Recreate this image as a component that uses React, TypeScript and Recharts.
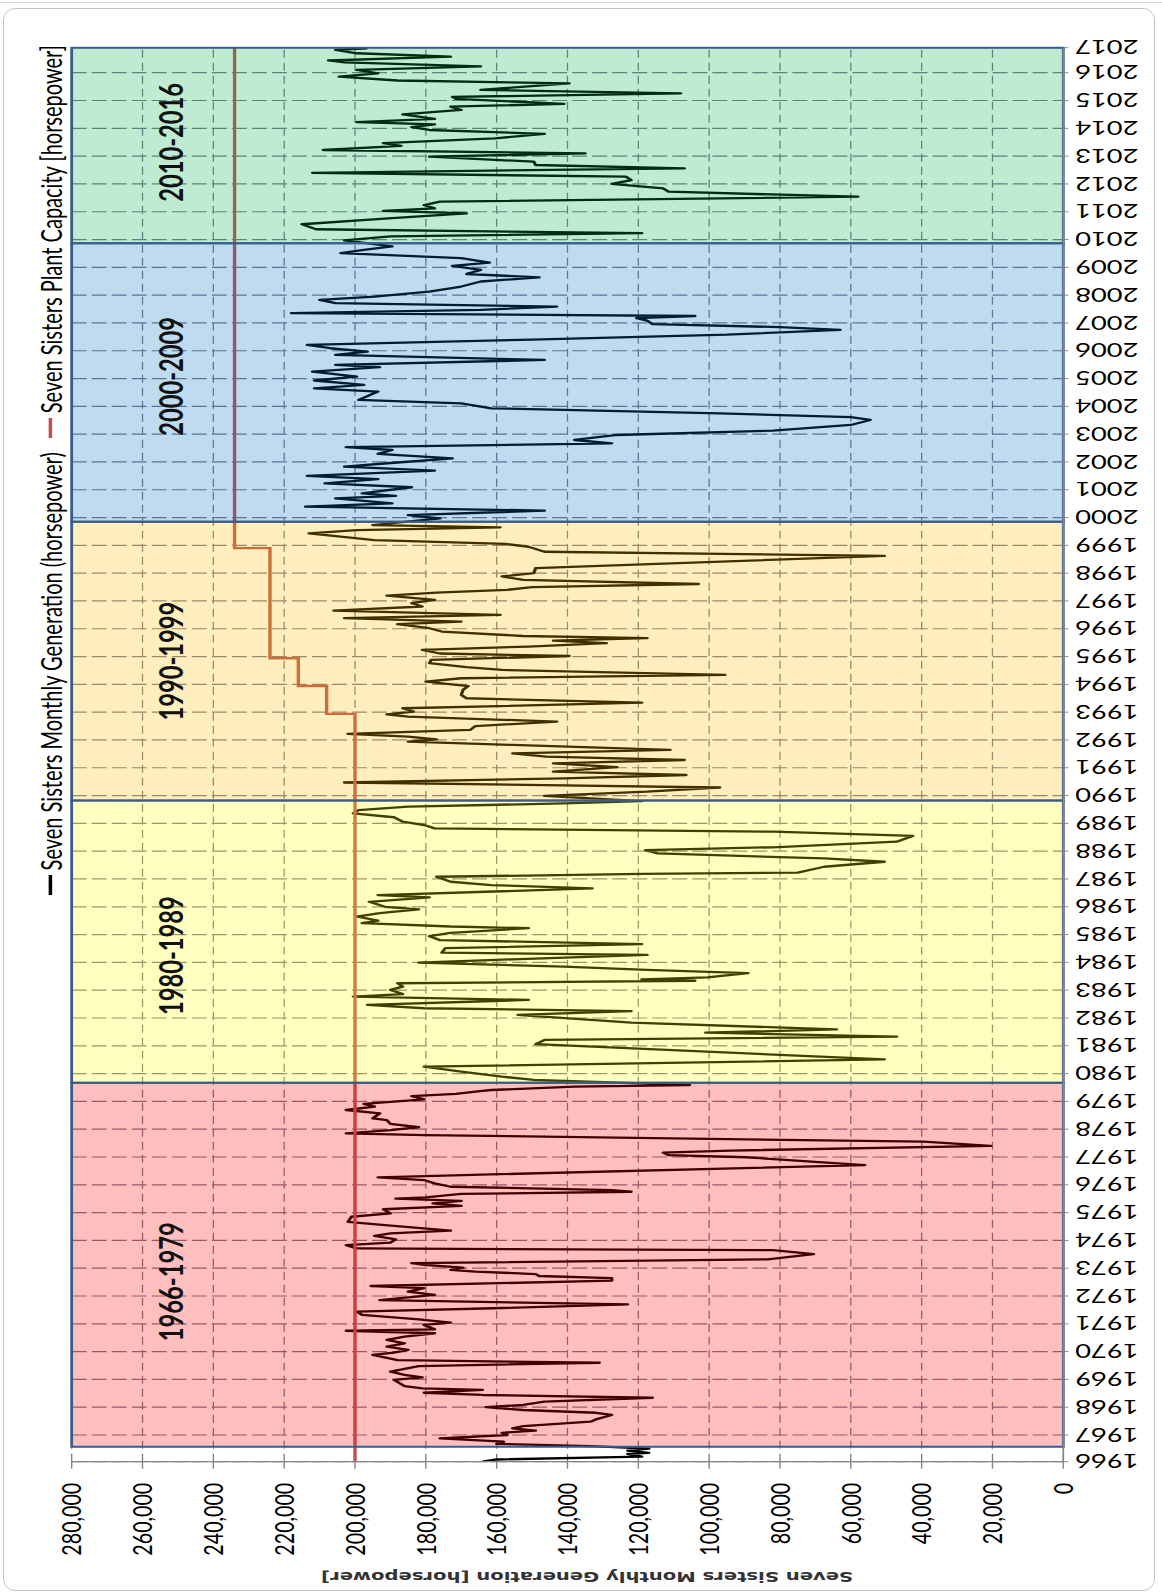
import React from 'react';
import { LineChart, Line, XAxis, YAxis, CartesianGrid, ReferenceArea, Legend } from 'recharts';

// ---- data (year, horsepower) ----
const gen1960s: [number, number][] = [
  [1966.04,164000],[1966.12,160000],[1966.22,119000],[1966.32,123000],[1966.36,117000],[1966.44,123000],[1966.51,117000],[1966.60,133500],[1966.68,160000],[1966.76,158000],[1966.88,176000],
  [1967.00,157000],[1967.08,158500],[1967.16,149000],[1967.24,155500],[1967.32,152500],[1967.48,133500],[1967.56,132000],[1967.72,127500],[1967.80,132000],[1967.90,152500],
  [1968.00,163000],[1968.08,152500],[1968.20,146500],[1968.34,116000],[1968.44,164000],[1968.52,180500],[1968.62,164000],[1968.68,181000],[1968.76,186000],[1968.98,189000],
  [1969.07,181000],[1969.16,186000],[1969.28,190000],[1969.48,182000],[1969.60,131000],[1969.69,188000],[1969.88,195000],[1969.96,189000],
];
const gen1970s: [number, number][] = [
  [1970.06,185000],[1970.18,191000],[1970.30,186000],[1970.42,191000],[1970.54,186000],[1970.66,177500],[1970.75,202500],[1970.80,177500],[1970.96,180500],
  [1971.04,173000],[1971.16,182000],[1971.32,198000],[1971.44,199500],[1971.56,161000],[1971.70,123000],[1971.85,193000],
  [1972.04,177500],[1972.16,185000],[1972.28,180500],[1972.36,195500],[1972.55,127500],[1972.64,127500],[1972.72,148000],[1972.79,149000],[1972.88,166000],[1972.94,173000],
  [1973.02,169500],[1973.12,180500],[1973.18,184000],[1973.32,83500],[1973.51,70500],[1973.65,82000],[1973.71,199500],[1973.83,202500],[1973.92,190000],
  [1974.04,188500],[1974.16,194500],[1974.25,190000],[1974.35,173000],[1974.55,191500],[1974.67,202000],[1974.85,201000],[1974.97,190000],
  [1975.12,192000],[1975.24,170000],[1975.33,178000],[1975.42,170000],[1975.50,188500],[1975.55,180000],[1975.67,170000],[1975.75,122000],[1975.81,127500],[1975.93,173000],
  [1976.05,177500],[1976.17,180500],[1976.27,193500],[1976.71,56000],[1976.99,89500],
  [1977.07,111500],[1977.16,113000],[1977.23,94000],[1977.40,20500],[1977.55,39500],[1977.79,180500],[1977.85,202500],[1977.97,190000],
  [1978.07,182000],[1978.19,190000],[1978.33,191000],[1978.39,195000],[1978.57,193000],[1978.69,202500],[1978.81,194500],[1978.91,197500],
  [1979.07,180500],[1979.19,184000],[1979.27,171500],[1979.35,166000],[1979.41,161500],[1979.53,138000],[1979.59,105500],[1979.77,149500],[1979.89,158500],
];
const gen1980s: [number, number][] = [
  [1980.07,170000],[1980.25,180500],[1980.51,50500],
  [1981.06,149000],[1981.21,146500],[1981.33,47000],[1981.47,101000],[1981.59,64000],[1981.83,122000],
  [1982.11,154000],[1982.25,122000],[1982.35,180500],[1982.47,196500],[1982.65,151000],[1982.77,200500],[1982.86,186500],
  [1983.01,190000],[1983.13,186500],[1983.25,188000],[1983.34,104000],[1983.39,119000],[1983.46,100500],[1983.61,89000],[1983.73,117500],[1983.85,141000],[1983.99,182000],
  [1984.11,155500],[1984.27,117500],[1984.35,175500],[1984.51,174500],[1984.66,119000],[1984.80,176000],[1984.94,179000],
  [1985.06,173000],[1985.23,151000],[1985.29,173000],[1985.41,198000],[1985.50,193500],[1985.65,199500],[1985.77,193000],[1985.91,182000],
  [1986.00,191500],[1986.18,196000],[1986.34,179000],[1986.42,193500],[1986.54,163000],[1986.66,133000],[1986.78,161500],[1986.90,173000],
  [1987.08,177000],[1987.18,119000],[1987.23,75000],[1987.44,67500],[1987.62,50500],[1987.74,67500],[1987.92,114500],
  [1988.04,118000],[1988.14,82000],[1988.34,47000],[1988.55,42500],[1988.70,82000],[1988.82,177500],[1988.94,180500],
  [1989.06,186500],[1989.22,189000],[1989.36,200500],[1989.48,199000],[1989.60,185000],[1989.72,141000],[1989.80,119000],[1989.99,146500],
];
const gen1990s: [number, number][] = [
  [1990.14,117500],[1990.29,97000],[1990.47,203000],[1990.62,141000],[1990.74,106500],[1990.86,144000],
  [1991.02,126000],[1991.16,144000],[1991.28,107000],[1991.40,146000],[1991.52,155500],[1991.64,111000],[1991.82,155500],[1991.94,185000],
  [1992.02,177000],[1992.12,185000],[1992.22,202000],[1992.36,167500],[1992.50,166000],[1992.66,143000],[1992.84,185000],[1992.92,191000],
  [1993.02,183500],[1993.14,186500],[1993.34,119000],[1993.50,168500],[1993.62,170000],[1993.80,169500],[1993.94,168000],
  [1994.10,180000],[1994.22,170000],[1994.34,95500],[1994.52,158500],[1994.62,168500],[1994.76,179000],[1994.88,178500],
  [1995.02,139500],[1995.11,176000],[1995.24,181000],[1995.36,151000],[1995.48,129000],[1995.57,144000],[1995.66,117500],[1995.74,152500],[1995.90,175500],
  [1996.02,179000],[1996.17,188000],[1996.26,170000],[1996.38,203000],[1996.50,159000],[1996.65,206000],[1996.80,181000],[1996.92,184000],
  [1997.04,177500],[1997.19,191000],[1997.30,177000],[1997.40,157000],[1997.50,150000],[1997.61,103000],[1997.76,152500],[1997.88,158500],
  [1998.00,149500],[1998.18,149000],[1998.62,50500],[1998.77,146500],[1998.95,151000],
  [1999.05,157500],[1999.19,194500],[1999.43,213000],[1999.55,199500],[1999.65,159000],[1999.73,195000],[1999.97,176000],
];
const gen2000s: [number, number][] = [
  [2000.09,185000],[2000.25,146500],[2000.39,214000],[2000.51,189500],[2000.69,205500],[2000.78,188500],[2000.87,198000],
  [2001.09,184000],[2001.23,208500],[2001.38,193500],[2001.50,213500],[2001.69,177500],[2001.83,203000],[2001.98,188000],
  [2002.13,172500],[2002.29,193500],[2002.43,189500],[2002.53,202500],[2002.67,127500],[2002.79,138000],[2002.97,126000],
  [2003.13,82000],[2003.33,60000],[2003.51,54500],[2003.61,60000],[2003.75,97000],[2003.93,161500],
  [2004.11,170000],[2004.23,199000],[2004.53,193500],[2004.65,211500],[2004.77,197500],[2004.93,211500],
  [2005.07,199500],[2005.25,212000],[2005.41,193000],[2005.49,205500],[2005.67,146500],[2005.85,205500],[2005.97,196500],
  [2006.09,207000],[2006.21,213500],[2006.40,150000],[2006.58,95000],[2006.75,63000],[2006.85,80000],[2006.96,116000],
  [2007.08,117500],[2007.17,120500],[2007.25,104000],[2007.35,218000],[2007.47,164500],[2007.59,143000],[2007.71,205500],[2007.83,210000],[2007.95,194500],
  [2008.13,179000],[2008.31,170000],[2008.49,164500],[2008.64,148000],[2008.76,168500],[2008.91,164500],
  [2009.05,172500],[2009.17,162000],[2009.33,170000],[2009.51,204000],[2009.63,197500],[2009.75,189500],[2009.97,203000],
];
const gen2010s: [number, number][] = [
  [2010.11,190000],[2010.23,119000],[2010.37,211000],[2010.55,215000],[2010.77,189500],[2010.94,168500],
  [2011.03,192000],[2011.12,177500],[2011.24,180500],[2011.36,176000],[2011.54,58000],[2011.72,111500],[2011.84,113000],
  [2012.00,127500],[2012.14,122000],[2012.26,123500],[2012.40,212000],[2012.56,107000],[2012.68,149000],[2012.80,149500],[2012.98,179000],
  [2013.10,135000],[2013.22,209000],[2013.37,187000],[2013.47,192000],[2013.64,160500],[2013.80,146500],[2013.94,179000],
  [2014.04,184000],[2014.14,177500],[2014.22,199500],[2014.34,177500],[2014.50,186500],[2014.66,170000],[2014.78,173000],[2014.88,141000],
  [2015.06,171500],[2015.13,172500],[2015.26,108000],[2015.38,164500],[2015.62,139500],[2015.72,188000],[2015.86,204500],[2015.98,193500],
  [2016.10,199500],[2016.23,164500],[2016.37,203000],[2016.44,207500],[2016.58,173000],[2016.70,199500],[2016.82,205500],[2016.88,196500],
];

const capacityYears = [1966.04, 1992.94, 1993.94, 1994.94, 1998.90, 2016.90];
const capacityValues = [200000, 208000, 216000, 224000, 234000, 234000];

const valueTicks = [0, 20000, 40000, 60000, 80000, 100000, 120000, 140000, 160000, 180000, 200000, 220000, 240000, 260000, 280000];
const yearTicks = [1966.04, 1967, 1968, 1969, 1970, 1971, 1972, 1973, 1974, 1975, 1976, 1977, 1978, 1979, 1980, 1981, 1982, 1983, 1984, 1985, 1986, 1987, 1988, 1989, 1990, 1991, 1992, 1993, 1994, 1995, 1996, 1997, 1998, 1999, 2000, 2001, 2002, 2003, 2004, 2005, 2006, 2007, 2008, 2009, 2010, 2011, 2012, 2013, 2014, 2015, 2016, 2016.90];
const yearLabels = ['1966','1967','1968','1969','1970','1971','1972','1973','1974','1975','1976','1977','1978','1979','1980','1981','1982','1983','1984','1985','1986','1987','1988','1989','1990','1991','1992','1993','1994','1995','1996','1997','1998','1999','2000','2001','2002','2003','2004','2005','2006','2007','2008','2009','2010','2011','2012','2013','2014','2015','2016','2017'];

const bandStarts = [1966.58, 1979.67, 1989.82, 1999.85, 2009.87];
const bandEnds = [1979.67, 1989.82, 1999.85, 2009.87, 2016.90];
const bandLabels = ['1966-1979', '1980-1989', '1990-1999', '2000-2009', '2010-2016'];
const bandColors = ['#FF0000', '#FFFF00', '#FFC000', '#0070C0', '#00B050'];
// label nudges (px, before rotation) so the text sits where it does in the original
const bandLabelShift = [-17, -14, 0, 6, 3];

const genName = 'Seven Sisters Monthly Generation (horsepower)';
const capName = 'Seven Sisters Plant Capacity [horsepower]';
const axisTitle = 'Seven Sisters Monthly Generation [horsepower]';

const genData = [...gen1960s, ...gen1970s, ...gen1980s, ...gen1990s, ...gen2000s, ...gen2010s].map(([t, v]) => ({ t, v }));
const capData = capacityYears.map((t, i) => ({ t, v: capacityValues[i] }));

// ---- layout (chart is drawn in its original orientation, then rotated) ----
const W = 1595;
const H = 830;
const STRETCH = 1.4;
const GRID = '#77778a';
const AXIS = '#868686';

const YearTick = (props: any) => {
  const { x, y, payload } = props;
  const idx = yearTicks.indexOf(payload.value);
  const label = idx >= 0 ? yearLabels[idx] : String(Math.round(payload.value));
  return (
    <text x={x} y={y} transform={`rotate(-90 ${x} ${y})`} textAnchor="end" dominantBaseline="central"
      style={{ fontFamily: 'Lato, sans-serif', fontSize: 19.5, fill: '#000' }}>
      {label}
    </text>
  );
};

const renderTitle = (props: any) => {
  const vb = props && props.viewBox ? props.viewBox : { x: 23.3, y: 51.2, width: 110, height: 708.3 };
  const cx = vb.x - 5;
  const cy = vb.y + vb.height / 2 + 14;
  return (
    <text x={cx} y={cy} transform={`rotate(-90 ${cx} ${cy})`} textAnchor="middle" dominantBaseline="central"
      style={{ fontFamily: 'DejaVu Sans, sans-serif', fontWeight: 700, fontSize: 14, fill: '#333' }}>
      {axisTitle}
    </text>
  );
};

const makeBandLabel = (text: string, shift: number) => (props: any) => {
  const vb = props.viewBox || { x: 0, y: 0, width: 0, height: 0 };
  const x = vb.x + vb.width / 2 + shift;
  const y = vb.y + 63;
  return (
    <text x={x} y={y} dy="0.71em" textAnchor="middle"
      style={{ fontFamily: 'Lato, sans-serif', fontWeight: 700, fontSize: 23.7, fill: '#111' }}>
      {text}
    </text>
  );
};

const renderLegend = (props: any) => {
  const payload = props.payload || [];
  return (
    <div style={{ display: 'flex', alignItems: 'center', whiteSpace: 'nowrap', fontFamily: 'Lato, sans-serif', fontSize: 20, color: '#000', lineHeight: '24px' }}>
      {payload.map((p: any, i: number) => (
        <div key={i} style={{ display: 'flex', alignItems: 'center', marginLeft: i ? 14 : 0 }}>
          <svg width={20} height={6}><line x1={0} y1={3} x2={20} y2={3} stroke={p.color} strokeWidth={2.5} /></svg>
          <span style={{ marginLeft: 5 }}>{p.value}</span>
        </div>
      ))}
    </div>
  );
};

export default function App() {
  return (
    <div style={{ position: 'absolute', left: 0, top: 0, width: 1162, height: 1595, background: '#fff', overflow: 'hidden' }}>
      <div style={{ position: 'absolute', left: 0, top: 2, width: 1162, height: 1, background: '#d6d6d6' }} />
      <div style={{ position: 'absolute', left: 3, top: 8, width: 1152, height: 1583, border: '1.5px solid #c4c4c4', borderRadius: 12, boxSizing: 'border-box' }} />
      <div style={{ position: 'absolute', left: 0, top: 0, width: W, height: H, transformOrigin: '0 0', transform: `translate(0px, ${W}px) rotate(-90deg) scale(1, ${STRETCH})`, fontFamily: 'Lato, sans-serif' }}>
        <LineChart width={W} height={H} margin={{ top: 51.2, right: 47.7, bottom: 20.5, left: 23.3 }}>
          <CartesianGrid vertical={false} stroke={GRID} strokeDasharray="8 5" strokeWidth={0.9} />
          <CartesianGrid horizontal={false} stroke={GRID} strokeDasharray="10.7 3.6" strokeWidth={1.2} />
          <XAxis type="number" dataKey="t" domain={[1966.04, 2016.9]} allowDataOverflow ticks={yearTicks} interval={0}
            tick={<YearTick />} tickSize={3.6} tickMargin={4.8} height={50}
            axisLine={{ stroke: AXIS, strokeWidth: 1.2 }} tickLine={{ stroke: AXIS }} />
          <YAxis type="number" domain={[0, 280000]} ticks={valueTicks} interval={0} width={110}
            tickFormatter={(v: number) => v.toLocaleString('en-US')} tickSize={7} tickMargin={14}
            tick={{ fontFamily: 'Lato, sans-serif', fontSize: 19.7, fill: '#000' }}
            axisLine={{ stroke: AXIS, strokeWidth: 1.2 }} tickLine={{ stroke: AXIS }} label={renderTitle} />
          <Line data={genData} dataKey="v" name={genName} type="linear" stroke="#000" strokeWidth={2.3} dot={false}
            isAnimationActive={false} legendType="line" strokeLinejoin="round" />
          <Line data={capData} dataKey="v" name={capName} type="stepAfter" stroke="#C0504D" strokeWidth={2.4} dot={false}
            isAnimationActive={false} legendType="line" />
          {bandLabels.map((lab, i) => (
            <ReferenceArea key={lab} x1={bandStarts[i]} x2={bandEnds[i]} y1={0} y2={280000}
              fill={bandColors[i]} fillOpacity={0.25} stroke="#385D8A" strokeWidth={2} strokeOpacity={1}
              zIndex={450} ifOverflow="visible"
              label={makeBandLabel(lab, bandLabelShift[i])} />
          ))}
          <Legend verticalAlign="middle" align="center" layout="horizontal" content={renderLegend}
            wrapperStyle={{ top: 24, right: 45, left: 'auto', bottom: 'auto', width: 'auto' }} />
        </LineChart>
      </div>
    </div>
  );
}
